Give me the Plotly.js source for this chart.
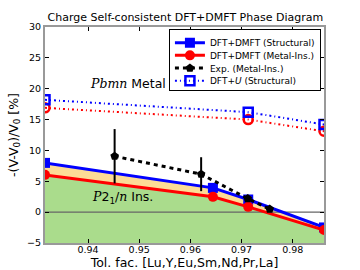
<!DOCTYPE html>
<html><head><meta charset="utf-8">
<script src="https://cdn.plot.ly/plotly-3.0.1.min.js"></script>
<style>html,body{margin:0;padding:0;background:#fff;}#chart{width:360px;height:270px;}</style>
</head><body><div id="chart"></div>
<script>
// Data
const dmftX = [0.9316, 0.9644, 0.9713, 0.9861];
const dmftStruct = [7.98, 3.93, 2.05, -2.48];
const dmftMI = [6.04, 2.48, 0.86, -2.90];
const expX = [0.9452, 0.9621, 0.9712, 0.9755];
const expY = [9.06, 6.15, 2.2, 0.49];
const expErr = [4.4, 2.75, 0, 0];
const dftuX = [0.9316, 0.9713, 0.9861];
const dftuStruct = [18.2, 16.2, 14.2];
const dftuMI = [16.9, 15.0, 13.1];
const xRange = [0.9316, 0.9861];
const yRange = [-5, 30];
const xTicks = [0.94, 0.95, 0.96, 0.97, 0.98];
const xTickText = ['0.94', '0.95', '0.96', '0.97', '0.98'];

const F = 'DejaVu Sans, sans-serif';
const serifI = "<span style='font-family:DejaVu Serif, serif;font-style:italic'>";

const traces = [
  {x: xRange, y: [yRange[0], yRange[0]], mode: 'lines', line: {width: 0}, showlegend: false, hoverinfo: 'skip'},
  {x: dmftX, y: dmftMI, mode: 'lines', line: {width: 0}, fill: 'tonexty', fillcolor: 'rgb(170,220,140)', showlegend: false, hoverinfo: 'skip'},
  {x: dmftX, y: dmftStruct, mode: 'lines', line: {width: 0}, fill: 'tonexty', fillcolor: 'rgb(253,220,150)', showlegend: false, hoverinfo: 'skip'},
  {x: xRange, y: [0, 0], mode: 'lines', line: {color: '#666', width: 1.2}, showlegend: false, hoverinfo: 'skip'},
  {x: dftuX, y: dftuMI, mode: 'lines+markers', name: 'DFT+U (MI)', showlegend: false,
   line: {color: '#ff0000', width: 2, dash: '2px,3px,1px,3px'},
   marker: {symbol: 'circle-open', size: 9, color: '#ff0000', line: {width: 2.5, color: '#ff0000'}}},
  {x: dftuX, y: dftuStruct, mode: 'lines+markers', name: 'DFT+<i>U</i> (Structural)', legendrank: 1,
   line: {color: '#0000ff', width: 2, dash: '2px,3px,1px,3px'},
   marker: {symbol: 'square-open', size: 9, color: '#0000ff', line: {width: 2.5, color: '#0000ff'}}},
  {x: dmftX, y: dmftStruct, mode: 'lines+markers', name: 'DFT+DMFT (Structural)', legendrank: 4,
   line: {color: '#0000ff', width: 3},
   marker: {symbol: 'square', size: 10, color: '#0000ff'}},
  {x: dmftX, y: dmftMI, mode: 'lines+markers', name: 'DFT+DMFT (Metal-Ins.)', legendrank: 3,
   line: {color: '#ff0000', width: 3},
   marker: {symbol: 'circle', size: 10, color: '#ff0000'}},
  {x: expX, y: expY, mode: 'lines+markers', name: 'Exp. (Metal-Ins.)', legendrank: 2,
   line: {color: '#000', width: 3, dash: '4px,4px'},
   marker: {symbol: 'pentagon', size: 9, color: '#000'},
   error_y: {type: 'data', array: expErr, visible: true, color: '#000', thickness: 2, width: 0}}
];

const layout = {
  width: 360, height: 270,
  margin: {l: 45, r: 36, t: 27, b: 27},
  paper_bgcolor: '#fff', plot_bgcolor: '#fff',
  font: {family: F, size: 9.5, color: '#000'},
  title: {text: 'Charge Self-consistent DFT+DMFT Phase Diagram', font: {family: F, size: 11, color: '#000'},
          x: 0.515, xanchor: 'center', y: 0.935, yanchor: 'middle'},
  xaxis: {range: xRange, tickvals: xTicks, ticktext: xTickText, ticks: 'inside', ticklen: 4, tickcolor: '#000',
          showline: true, linecolor: '#999', linewidth: 2, mirror: 'allticks', showgrid: false, zeroline: false,
          tickfont: {family: F, size: 9.5}, ticklabelstandoff: -3,
          title: {text: 'Tol. fac. [Lu,Y,Eu,Sm,Nd,Pr,La]', font: {family: F, size: 12.5}, standoff: 0}},
  yaxis: {range: yRange, dtick: 5, ticks: 'inside', ticklen: 4, tickcolor: '#000',
          showline: true, linecolor: '#999', linewidth: 2, mirror: 'allticks', showgrid: false, zeroline: false,
          tickfont: {family: F, size: 9.5},
          title: {text: '-(V-V<sub>0</sub>)/V<sub>0</sub> [%]', font: {family: F, size: 12.5}, standoff: 6}},
  legend: {x: 0.989, y: 0.99, xanchor: 'right', yanchor: 'top', bgcolor: '#fff', bordercolor: '#000', borderwidth: 1,
           font: {family: F, size: 9}, tracegroupgap: 0, itemwidth: 30, traceorder: 'reversed'},
  annotations: [
    {x: 0.94775, y: 20.9, xref: 'x', yref: 'y', showarrow: false, font: {family: F, size: 12.5, color: '#000'},
     text: serifI + 'Pbmn</span> Metal'},
    {x: 0.94676, y: 2.4, xref: 'x', yref: 'y', showarrow: false, font: {family: F, size: 12.5, color: '#000'},
     text: serifI + 'P</span>2<sub>1</sub>/' + serifI + 'n</span> Ins.'}
  ]
};

const gd = document.getElementById('chart');
Plotly.newPlot(gd, traces, layout, {staticPlot: true, displayModeBar: false}).then(() => {
  // compact the legend rows to match the reference's tighter spacing
  const leg = gd.querySelector('g.legend');
  if (!leg) return;
  const items = Array.from(leg.querySelectorAll('g.traces'));
  const spacing = 12.7;
  if (!items.length) return;
  const parse = g => {
    const m = /translate\(\s*([-\d.]+)[ ,]+([-\d.]+)\s*\)/.exec(g.getAttribute('transform') || '');
    return m ? [parseFloat(m[1]), parseFloat(m[2])] : [0, 0];
  };
  const ys = items.map(g => parse(g)[1]);
  const y0 = Math.min(...ys) - 2;
  items.forEach(g => {
    const [x, y] = parse(g);
    const rank = ys.filter(v => v < y).length;
    g.setAttribute('transform', 'translate(' + x + ',' + (y0 + spacing * rank) + ')');
  });
  const bg = leg.querySelector('rect.bg');
  if (bg) bg.setAttribute('height', (y0 + spacing * (items.length - 1) + 9).toFixed(1));
});
</script>
</body></html>
